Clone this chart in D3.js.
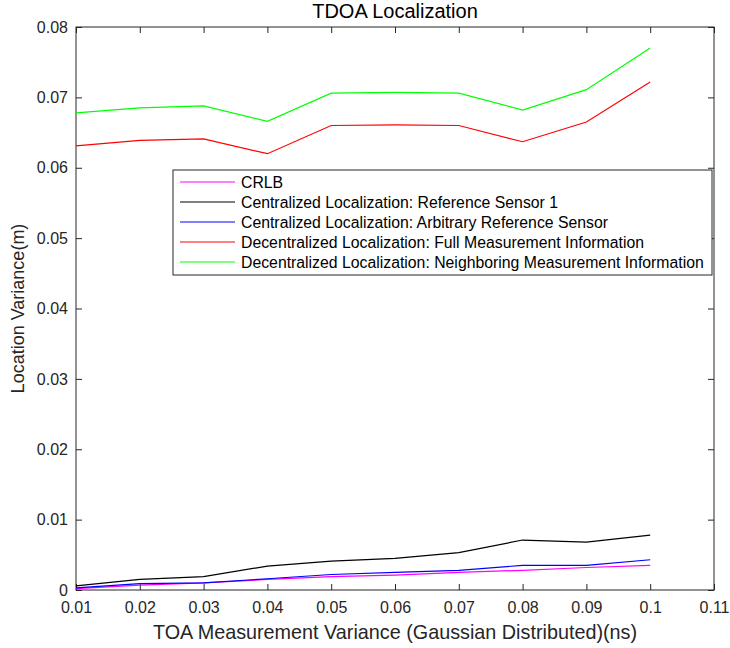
<!DOCTYPE html>
<html>
<head>
<meta charset="utf-8">
<script src="https://cdn.jsdelivr.net/npm/d3@7"></script>
<style>
  body { margin: 0; background: #fff; }
  svg text { font-family: "Liberation Sans", Arial, sans-serif; fill: #262626; }
</style>
</head>
<body>
<div id="chart"></div>
<script>
// data
const xValues = [0.01, 0.02, 0.03, 0.04, 0.05, 0.06, 0.07, 0.08, 0.09, 0.1];
const crlb = [0.0002, 0.0007, 0.0010, 0.0015, 0.0019, 0.0021, 0.0025, 0.0028, 0.0032, 0.0035];
const centralRef1 = [0.0006, 0.0015, 0.0019, 0.0034, 0.0041, 0.0045, 0.0053, 0.0071, 0.0068, 0.0078];
const centralArbitrary = [0.0003, 0.0009, 0.0010, 0.0016, 0.0022, 0.0025, 0.0028, 0.0035, 0.0035, 0.0043];
const decentralFull = [0.0631, 0.0639, 0.0641, 0.0620, 0.0660, 0.0661, 0.0660, 0.0637, 0.0665, 0.0722];
const decentralNeighbor = [0.0678, 0.0685, 0.0688, 0.0666, 0.0706, 0.0707, 0.0706, 0.0682, 0.0711, 0.0770];
const xTicks = [0.01, 0.02, 0.03, 0.04, 0.05, 0.06, 0.07, 0.08, 0.09, 0.1, 0.11];
const yTicks = [0, 0.01, 0.02, 0.03, 0.04, 0.05, 0.06, 0.07, 0.08];

const seriesNames = [
  "CRLB",
  "Centralized Localization: Reference Sensor 1",
  "Centralized Localization: Arbitrary Reference Sensor",
  "Decentralized Localization: Full Measurement Information",
  "Decentralized Localization: Neighboring Measurement Information"
];
const seriesValues = [crlb, centralRef1, centralArbitrary, decentralFull, decentralNeighbor];
const seriesColors = ["#ff00ff", "#000000", "#0000ff", "#ff0000", "#00ff00"];

const width = 730, height = 648;
const margin = { top: 27, right: 16, bottom: 58, left: 76 };
const w = width - margin.left - margin.right,
      h = height - margin.top - margin.bottom;

const svg = d3.select("#chart").append("svg")
    .attr("width", width)
    .attr("height", height);

const g = svg.append("g")
    .attr("transform", `translate(${margin.left},${margin.top})`);

const x = d3.scaleLinear().domain([0.01, 0.11]).range([0, w]);
const y = d3.scaleLinear().domain([0, 0.08]).range([h, 0]);

const fmt = d => d === 0 ? "0" : String(+d.toFixed(2));

// axes, MATLAB style: ticks pointing in, on all four sides
const axisColor = "#262626";
function styleAxis(sel) {
  sel.select(".domain").remove();
  sel.selectAll(".tick line").attr("stroke", axisColor);
  sel.selectAll(".tick text").style("font-size", "16px");
}

g.append("g")
  .attr("transform", `translate(0,${h})`)
  .call(d3.axisBottom(x).tickValues(xTicks).tickFormat(fmt).tickSizeInner(-6).tickPadding(12))
  .call(styleAxis);

g.append("g")
  .call(d3.axisTop(x).tickValues(xTicks).tickFormat("").tickSizeInner(-6))
  .call(styleAxis);

g.append("g")
  .call(d3.axisLeft(y).tickValues(yTicks).tickFormat(fmt).tickSizeInner(-6).tickPadding(8))
  .call(styleAxis);

g.append("g")
  .attr("transform", `translate(${w},0)`)
  .call(d3.axisRight(y).tickValues(yTicks).tickFormat("").tickSizeInner(-6))
  .call(styleAxis);

g.append("rect")
  .attr("width", w).attr("height", h)
  .attr("fill", "none")
  .attr("stroke", axisColor)
  .attr("stroke-width", 1);

// lines
const line = d3.line()
  .x((d, i) => x(xValues[i]))
  .y(d => y(d));

seriesValues.forEach((vals, i) => {
  g.append("path")
    .datum(vals)
    .attr("fill", "none")
    .attr("stroke", seriesColors[i])
    .attr("stroke-width", 1.2)
    .attr("d", line);
});

// title and labels
svg.append("text")
  .attr("x", margin.left + w / 2)
  .attr("y", 18)
  .attr("text-anchor", "middle")
  .style("font-size", "20px")
  .style("fill", "#000")
  .text("TDOA Localization");

svg.append("text")
  .attr("x", margin.left + w / 2)
  .attr("y", 639)
  .attr("text-anchor", "middle")
  .style("font-size", "19.8px")
  .text("TOA Measurement Variance (Gaussian Distributed)(ns)");

svg.append("text")
  .attr("transform", `translate(24,${margin.top + h / 2}) rotate(-90)`)
  .attr("text-anchor", "middle")
  .style("font-size", "18px")
  .text("Location Variance(m)");

// legend
const legend = svg.append("g").attr("transform", "translate(173,170)");
legend.append("rect")
  .attr("width", 539).attr("height", 105)
  .attr("fill", "#fff")
  .attr("stroke", axisColor)
  .attr("stroke-width", 1);

seriesNames.forEach((name, i) => {
  const yy = 12 + i * 20;
  legend.append("line")
    .attr("x1", 7).attr("x2", 62)
    .attr("y1", yy).attr("y2", yy)
    .attr("stroke", seriesColors[i])
    .attr("stroke-width", 1.2);
  legend.append("text")
    .attr("x", 68).attr("y", yy + 5.5)
    .style("font-size", "15.8px")
    .style("fill", "#000")
    .text(name);
});
</script>
</body>
</html>
